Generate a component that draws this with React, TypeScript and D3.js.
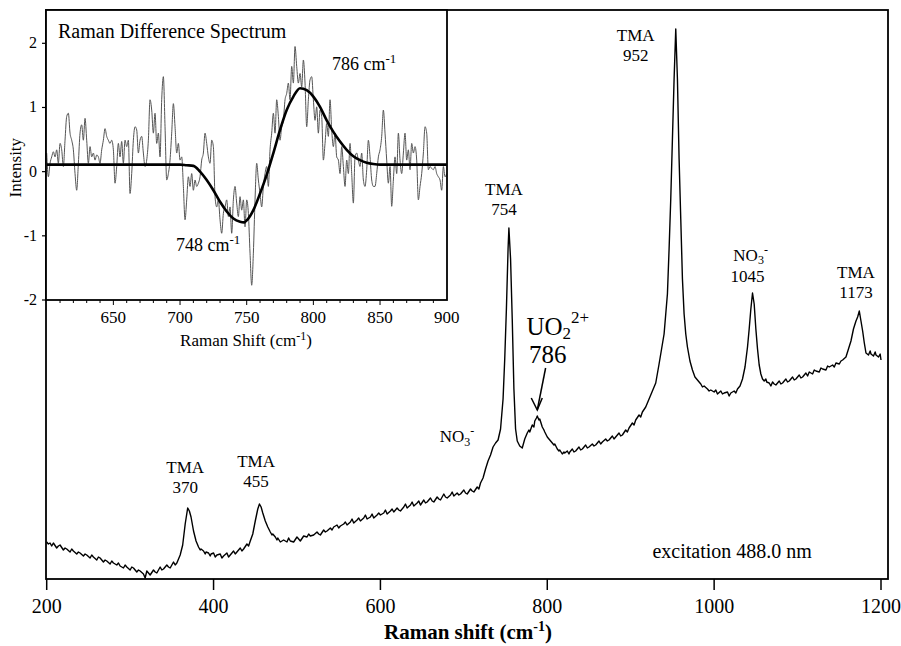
import React from 'react';
import * as d3 from 'd3';

const W = 901;
const H = 646;

// main spectrum: [Raman shift (cm-1), intensity (a.u.)]
const spectrum: [number, number][] = [
  [200, 37], [202, 35], [204, 36], [206, 33], [208, 36], [212, 31], [214, 33], [216, 34], [220, 29], [222, 31],
  [224, 30], [228, 27], [230, 30], [232, 28], [236, 25], [238, 27], [240, 26], [244, 23], [246, 25], [248, 24],
  [252, 21], [254, 24], [256, 22], [260, 19], [262, 22], [264, 21], [268, 17], [270, 19], [272, 18], [276, 15],
  [278, 18], [280, 16], [284, 14], [286, 16], [288, 13], [292, 11], [294, 14], [296, 12], [300, 9], [302, 12],
  [304, 11], [308, 7], [310, 9], [312, 8], [316, 5], [318, 1], [320, 8], [322, 6], [324, 4], [328, 9],
  [330, 7], [332, 6], [336, 12], [338, 9], [340, 10], [344, 14], [346, 12], [348, 11], [352, 17], [354, 14],
  [356, 16], [360, 24], [363, 34], [366, 55], [369, 71], [371, 68], [373, 62], [376, 48], [379, 38], [382, 32],
  [384, 29], [385, 30], [388, 28], [390, 25], [391, 27], [394, 26], [396, 23], [397, 25], [400, 26], [402, 22],
  [404, 24], [408, 25], [410, 21], [412, 23], [416, 26], [418, 22], [420, 24], [424, 28], [426, 25], [428, 27],
  [432, 31], [434, 28], [436, 30], [440, 35], [442, 33], [444, 38], [447, 45], [450, 58], [453, 70], [455, 75],
  [457, 72], [459, 66], [462, 58], [465, 52], [468, 47], [470, 44], [471, 45], [474, 42], [476, 39], [477, 41],
  [480, 37], [484, 39], [488, 37], [490, 41], [492, 38], [496, 37], [500, 42], [502, 40], [504, 38], [508, 43],
  [512, 42], [514, 45], [516, 43], [520, 44], [524, 47], [526, 45], [528, 44], [532, 49], [534, 47], [536, 48],
  [540, 51], [542, 49], [544, 52], [548, 54], [550, 51], [552, 53], [556, 55], [558, 57], [560, 54], [564, 57],
  [566, 60], [568, 56], [572, 59], [574, 61], [576, 58], [580, 61], [582, 64], [584, 60], [588, 62], [590, 65],
  [592, 61], [596, 64], [598, 66], [600, 64], [604, 66], [606, 69], [608, 65], [612, 68], [614, 70], [616, 67],
  [620, 71], [622, 69], [624, 68], [628, 72], [630, 75], [632, 71], [636, 74], [638, 77], [640, 73], [644, 76],
  [646, 78], [648, 74], [652, 79], [654, 76], [656, 77], [660, 81], [662, 78], [664, 77], [668, 82], [670, 80],
  [672, 79], [676, 85], [678, 82], [680, 81], [684, 84], [686, 87], [688, 83], [692, 86], [694, 84], [696, 85],
  [700, 89], [702, 86], [704, 85], [708, 90], [710, 88], [712, 87], [716, 92], [718, 90], [720, 96], [723, 101],
  [726, 110], [729, 118], [732, 124], [735, 132], [738, 136], [741, 139], [744, 150], [747, 180], [749, 220], [751, 270],
  [753, 330], [754, 351], [756, 320], [758, 260], [760, 190], [762, 150], [764, 138], [767, 133], [770, 131], [773, 140],
  [776, 146], [778, 149], [779, 147], [782, 154], [784, 152], [785, 158], [787, 161], [788, 163], [790, 159], [791, 160],
  [794, 152], [796, 149], [797, 147], [800, 142], [802, 140], [803, 139], [806, 136], [808, 134], [809, 135], [812, 130],
  [814, 128], [815, 129], [818, 125], [820, 127], [821, 126], [824, 128], [826, 125], [827, 127], [830, 130], [832, 127],
  [834, 128], [838, 132], [840, 129], [842, 130], [846, 134], [848, 131], [850, 132], [854, 135], [856, 133], [858, 134],
  [862, 138], [864, 135], [866, 137], [870, 140], [872, 138], [874, 139], [878, 143], [880, 140], [882, 142], [886, 146],
  [888, 143], [890, 144], [894, 149], [896, 147], [898, 151], [902, 156], [904, 154], [906, 159], [910, 164], [912, 162],
  [914, 167], [918, 172], [920, 176], [922, 180], [926, 188], [930, 196], [934, 215], [937, 230], [940, 245], [942, 265],
  [944, 285], [946, 330], [948, 380], [950, 440], [952, 500], [954, 550], [956, 500], [958, 420], [960, 360], [962, 300],
  [964, 265], [966, 245], [968, 232], [971, 218], [974, 209], [977, 202], [980, 199], [984, 195], [986, 192], [988, 193],
  [992, 190], [994, 188], [996, 189], [1000, 187], [1002, 189], [1004, 185], [1008, 188], [1010, 185], [1012, 186], [1016, 187],
  [1018, 183], [1020, 186], [1024, 188], [1026, 186], [1028, 190], [1031, 193], [1034, 200], [1037, 212], [1040, 232], [1042, 250],
  [1044, 270], [1046, 286], [1048, 275], [1050, 250], [1052, 230], [1054, 214], [1056, 205], [1058, 200], [1060, 198], [1062, 200],
  [1063, 197], [1066, 196], [1068, 193], [1070, 197], [1072, 195], [1074, 194], [1078, 198], [1080, 195], [1082, 196], [1086, 200],
  [1088, 197], [1090, 198], [1094, 202], [1096, 199], [1098, 200], [1102, 204], [1104, 201], [1106, 202], [1110, 206], [1112, 203],
  [1114, 207], [1118, 205], [1120, 209], [1122, 208], [1126, 207], [1128, 211], [1130, 210], [1134, 209], [1136, 213], [1138, 212],
  [1142, 214], [1144, 212], [1146, 216], [1150, 215], [1152, 218], [1154, 219], [1158, 222], [1161, 230], [1164, 238], [1167, 250],
  [1170, 258], [1172, 262], [1174, 268], [1176, 258], [1178, 248], [1180, 236], [1182, 226], [1185, 224], [1187, 228], [1188, 225],
  [1191, 223], [1193, 227], [1194, 224], [1197, 222], [1199, 225], [1200, 219],
];
const mainTicks = [200, 400, 600, 800, 1000, 1200];

// inset: raw difference spectrum and fitted curve
const diffSpectrum: [number, number][] = [
  [600, 0.29], [601.25, -0.08], [602.5, 0.13], [603.75, 0.23], [605, 0.31], [606.25, 0.23], [607.5, 0.34], [608.75, 0.13],
  [610, 0.44], [611.25, 0.34], [612.5, 0.08], [613.75, 0.49], [615, 0.86], [616.25, 0.91], [617.5, 0.6], [618.75, 0.49],
  [620, 0.34], [621.25, -0.03], [622.5, -0.29], [623.75, 0.13], [625, 0.6], [626.25, 0.73], [627.5, 0.49], [628.75, 0.83],
  [630, 0.49], [631.25, 0.13], [632.5, 0.39], [633.75, 0.23], [635, 0.29], [636.25, 0.18], [637.5, 0.26], [638.75, 0.23],
  [640, 0.13], [641.25, 0.34], [642.5, 0.49], [643.75, 0.67], [645, 0.55], [646.25, 0.49], [647.5, 0.44], [648.75, 0.49],
  [650, 0.34], [651.25, -0.18], [652.5, 0.08], [653.75, 0.44], [655, 0.23], [656.25, 0.47], [657.5, 0.13], [658.75, 0.49],
  [660, 0.39], [661.25, 0.49], [662.5, -0.34], [663.75, -0.03], [665, 0.49], [666.25, 0.7], [667.5, 0.65], [668.75, 0.29],
  [670, 0.49], [671.25, 0.55], [672.5, 0.29], [673.75, 0.08], [675, 0.18], [676.25, 0.49], [677.5, 1.12], [678.75, 0.96],
  [680, 0.6], [681.25, 0.91], [682.5, 0.44], [683.75, 0.6], [685, 0.23], [686.25, 1.12], [687.5, 1.48], [688.75, 0.7],
  [690, -0.13], [691.25, -0.03], [692.5, 0.18], [693.75, 0.6], [695, 1.06], [696.25, 0.7], [697.5, 0.29], [698.75, 0.44],
  [700, 0.18], [701.25, 0.23], [702.5, -0.23], [703.75, -0.75], [705, -0.44], [706.25, -0.08], [707.5, -0.23], [708.75, -0.03],
  [710, -0.29], [711.25, -0.13], [712.5, -0.23], [713.75, -0.18], [715, -0.08], [716.25, 0.18], [717.5, 0.29], [718.75, 0.6],
  [720, 0.44], [721.25, 0.23], [722.5, 0.13], [723.75, 0.49], [725, 0.39], [726.25, -0.39], [727.5, -0.55], [728.75, -0.44],
  [730, -0.75], [731.25, -0.96], [732.5, -0.65], [733.75, -0.55], [735, -0.44], [736.25, -0.7], [737.5, -0.55], [738.75, -0.96],
  [740, -0.44], [741.25, -0.23], [742.5, -0.49], [743.75, -0.7], [745, -0.39], [746.25, -0.6], [747.5, -0.44], [748.75, -0.86],
  [750, -0.44], [751.25, -0.65], [752.5, -1.27], [753.75, -1.77], [755, -1.27], [756.25, -0.44], [757.5, 0.13], [758.75, -0.13],
  [760, -0.34], [761.25, -0.55], [762.5, -0.23], [763.75, -0.03], [765, 0.08], [766.25, -0.23], [767.5, 0.34], [768.75, 0.6],
  [770, 0.91], [771.25, 0.6], [772.5, 1.12], [773.75, 0.86], [775, 0.49], [776.25, 0.7], [777.5, 0.8], [778.75, 1.12],
  [780, 1.22], [781.25, 1.38], [782.5, 1.12], [783.75, 1.64], [785, 1.38], [786.25, 1.95], [787.5, 1.64], [788.75, 1.38],
  [790, 1.53], [791.25, 1.32], [792.5, 1.74], [793.75, 1.38], [795, 0.7], [796.25, 1.12], [797.5, 1.43], [798.75, 1.48],
  [800, 1.12], [801.25, 0.8], [802.5, 1.01], [803.75, 0.6], [805, 0.96], [806.25, 0.86], [807.5, 0.18], [808.75, 0.44],
  [810, 0.75], [811.25, 0.55], [812.5, 1.12], [813.75, 0.65], [815, 0.39], [816.25, 0.6], [817.5, 0.23], [818.75, 0.18],
  [820, -0.03], [821.25, 0.39], [822.5, 0.08], [823.75, -0.23], [825, 0.18], [826.25, -0.03], [827.5, 0.44], [828.75, -0.03],
  [830, -0.49], [831.25, 0.23], [832.5, 0.29], [833.75, 0.18], [835, 0.08], [836.25, 0.29], [837.5, -0.13], [838.75, -0.23],
  [840, 0.03], [841.25, 0.49], [842.5, 0.23], [843.75, -0.13], [845, -0.23], [846.25, -0.23], [847.5, -0.03], [848.75, 0.23],
  [850, 0.34], [851.25, 0.55], [852.5, 0.96], [853.75, 0.6], [855, 0.18], [856.25, -0.18], [857.5, 0.08], [858.75, -0.54],
  [860, -0.13], [861.25, 0.23], [862.5, -0.03], [863.75, 0.6], [865, 0.18], [866.25, -0.03], [867.5, 0.29], [868.75, 0.6],
  [870, 0.18], [871.25, 0.34], [872.5, 0.03], [873.75, 0.44], [875, 0.29], [876.25, 0.39], [877.5, 0.18], [878.75, -0.44],
  [880, -0.23], [881.25, -0.03], [882.5, 0.29], [883.75, 0.7], [885, 0.6], [886.25, 0.03], [887.5, 0.08], [888.75, 0.05],
  [890, 0.03], [891.25, 0.08], [892.5, -0.03], [893.75, -0.08], [895, -0.13], [896.25, -0.29], [897.5, 0.08], [898.75, -0.08],
  [900, -0.03],
];
const diffFit: [number, number][] = [
  [600, 0.11], [650, 0.11], [700, 0.11], [705, 0.1], [710, 0.09], [715, 0.0], [720, -0.13], [725, -0.29], [730, -0.47],
  [735, -0.62], [740, -0.73], [745, -0.78], [748, -0.79], [750, -0.76], [755, -0.6], [760, -0.34], [765, -0.05],
  [770, 0.29], [775, 0.65], [780, 0.96], [785, 1.17], [790, 1.3], [795, 1.27], [800, 1.17], [805, 1.01], [810, 0.8],
  [815, 0.62], [820, 0.47], [825, 0.34], [830, 0.24], [835, 0.18], [840, 0.14], [845, 0.12], [850, 0.11], [875, 0.11], [900, 0.11],
];
const insetXTicks = [650, 700, 750, 800, 850, 900];
const insetMinorTicks = d3.range(610, 900, 10);
const insetYTicks = [-2, -1, 0, 1, 2];

const peakLabels = [
  { top: 'TMA', bottom: '370', shift: 366, level: 106 },
  { top: 'TMA', bottom: '455', shift: 451, level: 112 },
  { top: 'TMA', bottom: '754', shift: 748, level: 384 },
  { top: 'TMA', bottom: '952', shift: 906, level: 538 },
  { top: 'TMA', bottom: '1173', shift: 1170, level: 301 },
];

const FONT = "'Liberation Serif', 'Times New Roman', Times, serif";

export default function App() {
  const frame = { left: 46, right: 888, top: 10, bottom: 579 };
  const x = d3.scaleLinear().domain([200, 1200]).range([46.7, 881]);
  const y = d3.scaleLinear().domain([0, 569]).range([579, 10]);

  const inset = { left: 46, right: 447, top: 10, bottom: 300 };
  const ix = d3.scaleLinear().domain([600, 900]).range([46.7, 446.7]);
  const iy = d3.scaleLinear().domain([-2, 2]).range([300, 43.3]);

  const mainLine = d3.line<[number, number]>().x(d => x(d[0])).y(d => y(d[1]));
  const diffLine = d3.line<[number, number]>().x(d => ix(d[0])).y(d => iy(d[1])).curve(d3.curveMonotoneX);
  const fitLine = d3.line<[number, number]>().x(d => ix(d[0])).y(d => iy(d[1])).curve(d3.curveMonotoneX);

  // arrow pointing to the 786 uranyl band
  const tipX = x(788);
  const tipY = y(163) - 6;
  const tailX = x(798);
  const tailY = y(211);

  return (
    <svg width={W} height={H} style={{ position: 'absolute', left: 0, top: 0, background: '#fff', fontFamily: FONT }}>
      <rect width={W} height={H} fill="#fff" />

      {/* main spectrum */}
      <path d={mainLine(spectrum) || ''} fill="none" stroke="#000" strokeWidth={1.4} strokeLinejoin="round" />

      {/* main frame */}
      <rect x={frame.left} y={frame.top} width={frame.right - frame.left} height={frame.bottom - frame.top}
        fill="none" stroke="#000" strokeWidth={1.8} />
      {mainTicks.map(t => (
        <g key={t} transform={`translate(${x(t)},${frame.bottom})`}>
          <line y1={0} y2={11} stroke="#000" strokeWidth={1.5} />
          <text y={34} textAnchor="middle" fontSize={20}>{t}</text>
        </g>
      ))}
      <text x={468} y={639} textAnchor="middle" fontSize={21} fontWeight="bold">
        Raman shift (cm<tspan dy={-8} fontSize={14}>-1</tspan><tspan dy={8}>)</tspan>
      </text>

      {/* peak labels */}
      {peakLabels.map(p => (
        <g key={p.bottom} fontSize={17} textAnchor="middle">
          <text x={x(p.shift)} y={y(p.level)}>{p.top}</text>
          <text x={x(p.shift)} y={y(p.level) + 20}>{p.bottom}</text>
        </g>
      ))}
      <text x={x(671)} y={y(137)} fontSize={17}>
        NO<tspan dy={4} fontSize={12}>3</tspan><tspan dy={-11} fontSize={12}>-</tspan>
      </text>
      <text x={x(1023)} y={y(318)} fontSize={17}>
        NO<tspan dy={3} fontSize={12}>3</tspan><tspan dy={-10} fontSize={12}>-</tspan>
      </text>
      <text x={x(1040)} y={y(297)} fontSize={17} textAnchor="middle">1045</text>
      <text x={x(775)} y={y(244)} fontSize={25}>
        UO<tspan dy={4} fontSize={17}>2</tspan><tspan dy={-16} fontSize={17}>2+</tspan>
      </text>
      <text x={x(778)} y={y(216)} fontSize={25}>786</text>
      <line x1={tailX} y1={tailY} x2={tipX} y2={tipY} stroke="#000" strokeWidth={1.5} />
      <path d={`M${tipX - 6},${tipY - 12} L${tipX},${tipY} L${tipX + 5},${tipY - 12}`} fill="none" stroke="#000" strokeWidth={1.5} />
      <text x={x(926)} y={y(21)} fontSize={20}>excitation 488.0 nm</text>

      {/* inset */}
      <rect x={inset.left} y={inset.top} width={inset.right - inset.left} height={inset.bottom - inset.top}
        fill="#fff" stroke="none" />
      <path d={diffLine(diffSpectrum) || ''} fill="none" stroke="#555" strokeWidth={1} />
      <path d={fitLine(diffFit) || ''} fill="none" stroke="#000" strokeWidth={2.6} />
      <rect x={inset.left} y={inset.top} width={inset.right - inset.left} height={inset.bottom - inset.top}
        fill="none" stroke="#000" strokeWidth={1.8} />
      {insetMinorTicks.map(t => (
        <line key={t} x1={ix(t)} x2={ix(t)} y1={inset.bottom} y2={inset.bottom + (t % 50 === 0 ? 5 : 3)} stroke="#000" strokeWidth={1} />
      ))}
      {insetXTicks.map(t => (
        <text key={t} x={ix(t)} y={323} textAnchor="middle" fontSize={17}>{t}</text>
      ))}
      {insetYTicks.map(t => (
        <g key={t} transform={`translate(${inset.left},${iy(t)})`}>
          <line x1={-4} x2={0} stroke="#000" strokeWidth={1.2} />
          <text x={-9} y={5} textAnchor="end" fontSize={16}>{t}</text>
        </g>
      ))}
      <text transform={`translate(21,${iy(0) - 4}) rotate(-90)`} textAnchor="middle" fontSize={17}>Intensity</text>
      <text x={246} y={346} textAnchor="middle" fontSize={17}>
        Raman Shift (cm<tspan dy={-6} fontSize={12}>-1</tspan><tspan dy={6}>)</tspan>
      </text>
      <text x={58} y={38} fontSize={20}>Raman Difference Spectrum</text>
      <text x={ix(814)} y={iy(1.58)} fontSize={18}>
        786 cm<tspan dy={-7} fontSize={13}>-1</tspan>
      </text>
      <text x={ix(697)} y={iy(-1.235)} fontSize={18}>
        748 cm<tspan dy={-7} fontSize={13}>-1</tspan>
      </text>
    </svg>
  );
}
